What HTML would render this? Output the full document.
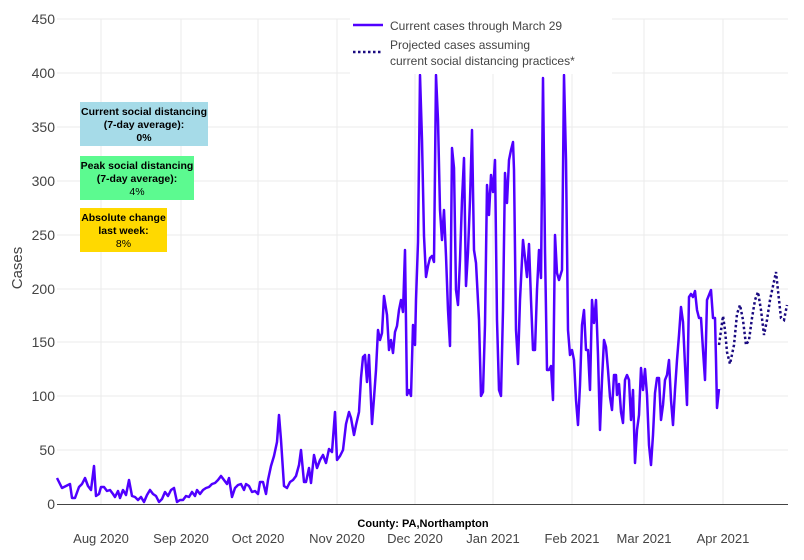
<!DOCTYPE html>
<html><head><meta charset="utf-8"><style>
body{margin:0;background:#fff;}
svg{display:block;font-family:"Liberation Sans",sans-serif;}
</style></head><body>
<svg width="804" height="560" viewBox="0 0 804 560" xmlns="http://www.w3.org/2000/svg">
<rect width="804" height="560" fill="#fff"/>
<g stroke="#ebebeb" stroke-width="1">
<line x1="57" y1="19" x2="788" y2="19"/><line x1="57" y1="73" x2="788" y2="73"/>
<line x1="57" y1="127" x2="788" y2="127"/><line x1="57" y1="181" x2="788" y2="181"/>
<line x1="57" y1="235" x2="788" y2="235"/><line x1="57" y1="289" x2="788" y2="289"/>
<line x1="57" y1="342" x2="788" y2="342"/><line x1="57" y1="396" x2="788" y2="396"/>
<line x1="57" y1="450" x2="788" y2="450"/>
<line x1="101" y1="19" x2="101" y2="504"/><line x1="181" y1="19" x2="181" y2="504"/>
<line x1="258" y1="19" x2="258" y2="504"/><line x1="337" y1="19" x2="337" y2="504"/>
<line x1="415" y1="19" x2="415" y2="504"/><line x1="493" y1="19" x2="493" y2="504"/>
<line x1="572" y1="19" x2="572" y2="504"/><line x1="644" y1="19" x2="644" y2="504"/>
<line x1="723" y1="19" x2="723" y2="504"/>
</g>
<line x1="57" y1="504.5" x2="788" y2="504.5" stroke="#444" stroke-width="1"/>
<g font-size="14" fill="#444" text-anchor="end">
<text x="55" y="24">450</text><text x="55" y="78">400</text><text x="55" y="132">350</text>
<text x="55" y="186">300</text><text x="55" y="240">250</text><text x="55" y="294">200</text>
<text x="55" y="347">150</text><text x="55" y="401">100</text><text x="55" y="455">50</text>
<text x="55" y="509">0</text>
</g>
<g font-size="13" fill="#444" text-anchor="middle">
<text x="101" y="543">Aug 2020</text><text x="181" y="543">Sep 2020</text><text x="258" y="543">Oct 2020</text>
<text x="337" y="543">Nov 2020</text><text x="415" y="543">Dec 2020</text><text x="493" y="543">Jan 2021</text>
<text x="572" y="543">Feb 2021</text><text x="644" y="543">Mar 2021</text><text x="723" y="543">Apr 2021</text>
</g>
<text x="22" y="268" font-size="15" fill="#444" text-anchor="middle" transform="rotate(-90 22 268)">Cases</text>
<text x="423" y="527" font-size="11" font-weight="bold" fill="#000" text-anchor="middle">County: PA,Northampton</text>
<polyline fill="none" stroke="#5000ff" stroke-width="2.5" stroke-linejoin="round" points="57,478 62,488 66,486 70,484 72,498 75,498 79,487 82,484 85,478 88,486 91,490 94,466 96,496 99,494 101,487 104,487 107,491 110,490 113,494 115,497 118,491 120,498 123,490 126,495 129,480 132,496 135,497 138,500 141,497 144,502 147,495 150,490 153,494 156,496 159,502 162,499 165,492 168,496 171,490 174,488 177,502 180,500 183,500 186,496 189,497 192,492 195,496 197,490 200,494 203,490 206,488 209,487 212,484 215,483 218,480 221,476 224,480 227,484 229,478 232,497 235,488 238,485 241,484 244,490 246,484 249,486 252,492 255,491 258,494 260,482 263,482 266,494 268,480 271,466 274,456 277,442 279,415 281,440 284,486 287,488 290,482 293,480 296,476 299,465 301,450 304,482 306,482 309,468 311,483 314,455 317,468 320,460 323,455 326,463 329,449 332,452 335,412 337,460 340,456 343,450 346,424 349,412 351,418 354,435 356,425 359,412 361,378 363,357 365,355 367,382 369,355 372,424 374,398 376,370 378,330 380,340 382,333 384,296 387,315 389,350 391,340 393,353 395,332 397,326 399,310 401,300 403,312 405,250 407,395 409,390 411,396 413,325 415,345 416,300 418,242 420,75 422,140 424,236 426,277 428,266 430,258 432,256 434,262 436,75 438,120 440,210 442,240 444,210 446,256 448,310 450,346 452,148 454,168 456,290 458,305 460,260 462,200 464,158 466,286 468,252 470,200 472,130 474,250 476,263 479,320 481,396 483,392 485,325 487,185 489,215 491,175 493,192 495,160 497,320 499,390 501,396 503,310 505,173 507,203 509,160 511,150 513,142 514,170 516,330 518,364 520,300 523,240 525,258 527,277 529,244 531,300 533,350 535,350 537,290 539,250 541,278 543,78 545,250 547,370 549,370 551,366 553,400 555,235 557,273 559,280 562,270 564,75 566,160 568,330 570,355 572,350 574,360 576,400 578,425 580,385 582,325 584,310 586,350 588,350 590,390 592,300 594,323 596,300 598,355 600,430 602,380 604,340 606,347 608,370 610,397 612,410 614,375 616,375 617,395 619,384 621,412 623,423 625,380 627,375 629,380 631,420 633,390 635,463 637,430 639,415 641,368 643,390 645,369 647,395 649,445 651,465 653,435 655,393 657,378 659,378 661,420 663,405 665,380 667,375 669,360 671,400 673,425 675,390 677,360 679,335 681,307 683,322 685,365 687,405 689,297 691,294 693,297 695,291 697,310 699,318 701,318 703,350 705,380 707,300 709,295 711,290 713,318 715,318 716,360 717,408 719,389"/>
<polyline fill="none" stroke="#1a0a80" stroke-width="2.5" stroke-dasharray="2.5,2.5" points="719,345 723,316 725,330 727,352 730,364 734,345 737,314 740,305 743,320 746,345 749,340 752,318 755,300 758,292 761,310 764,335 767,320 770,300 773,286 776,272 779,300 781,318 784,320 787,305"/>
<rect x="350" y="12" width="262" height="62" fill="#fff"/>
<line x1="353" y1="25" x2="383" y2="25" stroke="#5000ff" stroke-width="2.5"/>
<line x1="353" y1="52" x2="383" y2="52" stroke="#1a0a80" stroke-width="2.5" stroke-dasharray="2.5,2.5"/>
<g font-size="12" fill="#444">
<text x="390" y="30">Current cases through March 29</text>
<text x="390" y="49">Projected cases assuming</text>
<text x="390" y="65">current social distancing practices*</text>
</g>
<rect x="80" y="102" width="128" height="44" fill="#a6dbe8"/>
<rect x="80" y="156" width="114" height="44" fill="#5cfa90"/>
<rect x="80" y="208" width="87" height="44" fill="#ffd900"/>
<g font-size="10.5" fill="#000" text-anchor="middle">
<text x="144" y="115" font-weight="bold">Current social distancing</text>
<text x="144" y="128" font-weight="bold">(7-day average):</text>
<text x="144" y="141" font-weight="bold">0%</text>
<text x="137" y="169" font-weight="bold">Peak social distancing</text>
<text x="137" y="182" font-weight="bold">(7-day average):</text>
<text x="137" y="195">4%</text>
<text x="123.5" y="221" font-weight="bold">Absolute change</text>
<text x="123.5" y="234" font-weight="bold">last week:</text>
<text x="123.5" y="247">8%</text>
</g>
</svg>
</body></html>
